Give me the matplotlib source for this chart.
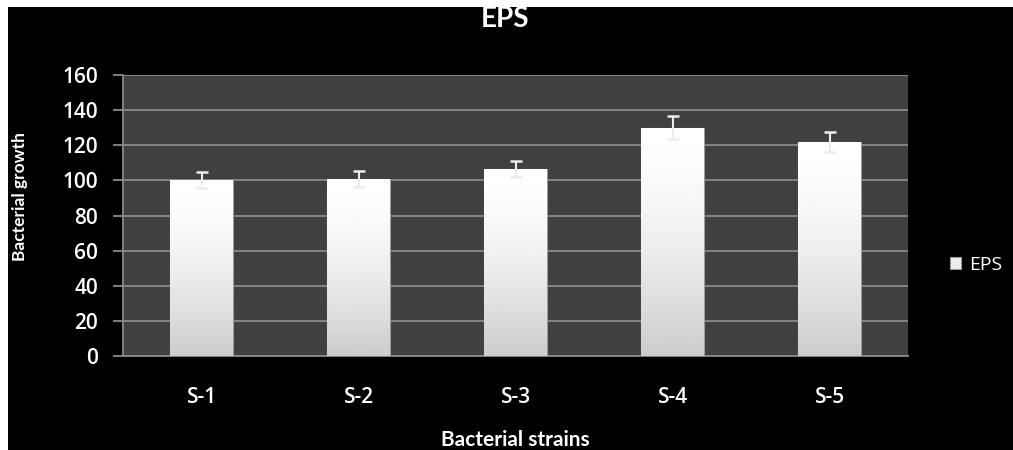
import matplotlib.pyplot as plt
import matplotlib.patches as mpatches
import numpy as np

strains = ["S-1", "S-2", "S-3", "S-4", "S-5"]
eps = [100, 101, 106.5, 130, 122]
eps_err = [4.5, 4.5, 4.5, 6.5, 5.7]

plt.rcParams['font.family'] = ['Open Sans', 'DejaVu Sans']

fig = plt.figure(figsize=(10.13, 4.5), dpi=100)
fig.patch.set_facecolor('black')
# thin white margin top/left like the source image
fig.patches.append(mpatches.Rectangle((0, 1 - 7 / 450), 1, 7 / 450, transform=fig.transFigure,
                                      facecolor='white', edgecolor='none', zorder=-5))
fig.patches.append(mpatches.Rectangle((0, 0), 8 / 1013, 1, transform=fig.transFigure,
                                      facecolor='white', edgecolor='none', zorder=-5))

ax = fig.add_axes([123 / 1013, 1 - 356 / 450, (908 - 123) / 1013, (356 - 75) / 450])
ax.set_facecolor('#404040')

x = np.arange(len(strains))
bars = ax.bar(x, eps, width=0.4, color='#ededed', edgecolor='#9a9a9a',
              linewidth=0.8, label='EPS', zorder=3)

# vertical gradient inside each bar (white top -> light grey bottom)
t = np.linspace(0, 1, 256)
grad = (1.0 - 0.2 * t ** 1.6).reshape(-1, 1)
for b in bars:
    x0, y0 = b.get_x(), b.get_y()
    w, h = b.get_width(), b.get_height()
    im = ax.imshow(grad, cmap='gray', vmin=0, vmax=1, aspect='auto',
                   extent=(x0, x0 + w, y0, y0 + h), zorder=3.5)
    im.set_clip_path(b)

ax.errorbar(x, eps, yerr=eps_err, fmt='none', ecolor='#ececec',
            elinewidth=1.5, capsize=4.5, capthick=1.8, zorder=4)

ax.set_xlim(-0.5, len(strains) - 0.5)
ax.set_ylim(0, 160)
ax.set_yticks(range(0, 161, 20))
ax.set_xticks(x)
ax.set_xticklabels(strains)

ax.grid(axis='y', color='#8a8a8a', linewidth=1.3, zorder=1)
ax.set_axisbelow(True)
for s in ['top', 'right']:
    ax.spines[s].set_visible(False)
ax.spines['left'].set_color('#8a8a8a')
ax.spines['bottom'].set_color('#8a8a8a')
ax.spines['left'].set_linewidth(1.3)
ax.spines['bottom'].set_linewidth(1.3)

ax.tick_params(axis='y', colors='#8a8a8a', labelcolor='white', labelsize=15,
               length=7, width=1.3, pad=11)
ax.tick_params(axis='x', length=0, labelcolor='white', labelsize=15, pad=22)
for lbl in ax.get_xticklabels() + ax.get_yticklabels():
    lbl.set_fontweight('semibold')

fig.text(505 / 1013, 1 - 27 / 450, 'EPS', color='white', fontsize=20,
         fontweight='bold', ha='center', va='baseline', family=['Lato', 'DejaVu Sans'])
fig.text(20 / 1013, 1 - 197 / 450, 'Bacterial growth', color='white', fontsize=12.5,
         fontweight='bold', rotation=90, ha='center', va='center', family=['Lato', 'DejaVu Sans'])
fig.text(515 / 1013, 1 - 430 / 450, 'Bacterial strains', color='white', fontsize=15,
         fontweight='bold', ha='center', va='top', family=['Lato', 'DejaVu Sans'])

leg = ax.legend(loc='center left', bbox_to_anchor=(1.043, 0.324), frameon=False,
                borderaxespad=0, fontsize=14, labelcolor='white',
                handlelength=0.6, handleheight=0.6, handletextpad=0.4)

fig.savefig('out.png', dpi=100, facecolor=fig.get_facecolor())
